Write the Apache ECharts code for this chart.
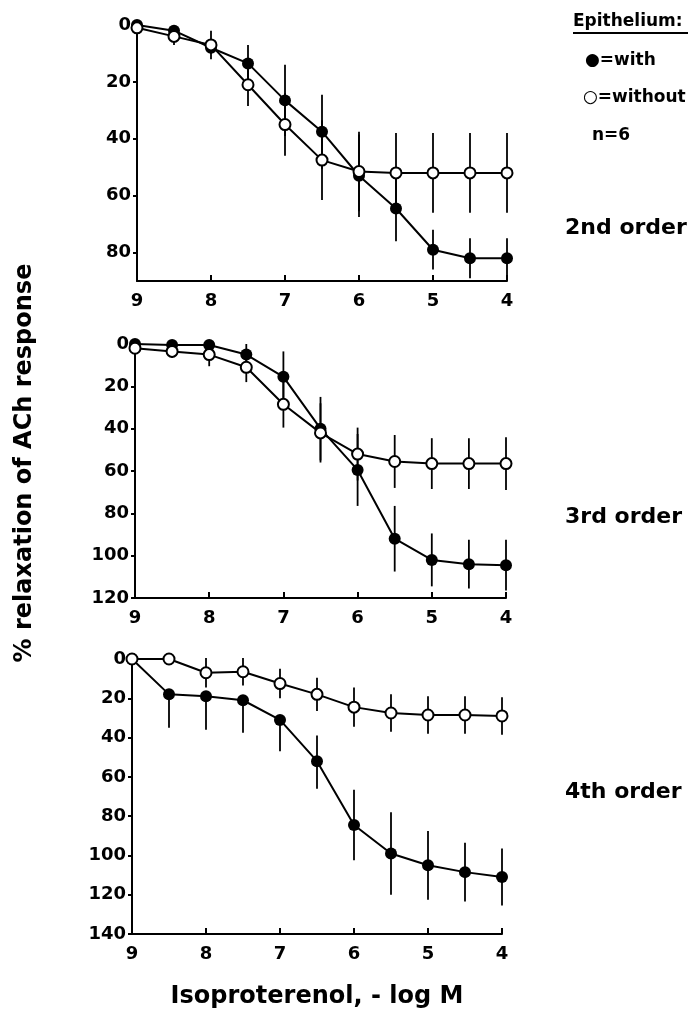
<!DOCTYPE html>
<html><head><meta charset="utf-8">
<script src="https://cdn.jsdelivr.net/npm/echarts@6/dist/echarts.min.js"></script>
<style>html,body{margin:0;padding:0;background:#fff}#c{width:696px;height:1011px}</style>
</head><body><div id="c"></div><script>
// ---- data ----
const xValues = [9, 8.5, 8, 7.5, 7, 6.5, 6, 5.5, 5, 4.5, 4];
const xTickValues = [9, 8, 7, 6, 5, 4];
const panelNames = ['2nd order', '3rd order', '4th order'];
const yTicks2 = [0, 20, 40, 60, 80];
const yTicks3 = [0, 20, 40, 60, 80, 100, 120];
const yTicks4 = [0, 20, 40, 60, 80, 100, 120, 140];

// 2nd order
const with2 = [0, 2, 8, 13.5, 26.5, 37.5, 53, 64.5, 79, 82, 82];
const with2SE = [0, 0, 2, 6.5, 12.5, 13, 14.5, 11.5, 7, 7, 7];
const without2 = [1, 4, 7, 21, 35, 47.5, 51.5, 52, 52, 52, 52];
const without2SE = [0, 3, 5, 7.5, 11, 14, 14, 14, 14, 14, 14];

// 3rd order
const with3 = [0, 0.5, 0.5, 5, 15.5, 40, 59.5, 92, 102, 104, 104.5];
const with3SE = [0, 0, 0, 5, 12, 15, 17, 15.5, 12.5, 11.5, 12];
const without3 = [2, 3.5, 5, 11, 28.5, 42, 52, 55.5, 56.5, 56.5, 56.5];
const without3SE = [0, 3, 5.5, 7, 11, 14, 12.5, 12.5, 12, 12, 12.5];

// 4th order
const with4 = [0, 18, 19, 21, 31, 52, 84.5, 99, 105, 108.5, 111];
const with4ErrUp = [0, 0, 0, 0, 0, 13, 18, 21, 17.5, 15, 14.5];
const with4ErrDown = [0, 17, 17, 16.5, 16, 14, 18, 21, 17.5, 15, 14.5];
const without4 = [0, 0, 7, 6.5, 12.5, 18, 24.5, 27.5, 28.5, 28.5, 29];
const without4SE = [0, 0, 7.5, 7, 7.5, 8.5, 10, 9.5, 9.5, 9.5, 9.5];

// ---- layout ----
const FONT = 'DejaVu Sans';
const grids = [
  {left: 137, top: 25, width: 370, height: 256},
  {left: 135, top: 344, width: 371, height: 254},
  {left: 132, top: 659, width: 370, height: 275}
];
const yMax = [90, 120, 140];
const yTickSets = [yTicks2, yTicks3, yTicks4];
const panelLabelY = [228, 517, 792];

function xAxisFor(i) {
  return {
    type: 'value', gridIndex: i, inverse: true, min: 4, max: 9, interval: 1, position: 'bottom',
    axisLine: {show: true, onZero: false, lineStyle: {color: '#000', width: 2}},
    axisTick: {show: true, inside: true, length: 6, lineStyle: {color: '#000', width: 2},
               customValues: xTickValues},
    axisLabel: {show: true, margin: 11, color: '#000', fontFamily: FONT, fontWeight: 'bold',
                fontSize: 18, customValues: xTickValues},
    splitLine: {show: false}
  };
}
function yAxisFor(i) {
  return {
    type: 'value', gridIndex: i, inverse: true, min: 0, max: yMax[i], interval: 20, position: 'left',
    axisLine: {show: true, onZero: false, lineStyle: {color: '#000', width: 2}},
    axisTick: {show: true, inside: false, length: 4, lineStyle: {color: '#000', width: 2},
               customValues: yTickSets[i]},
    axisLabel: {show: true, margin: 6, color: '#000', fontFamily: FONT, fontWeight: 'bold',
                fontSize: 18, customValues: yTickSets[i]},
    splitLine: {show: false}
  };
}
function errSeries(i, vals, up, down) {
  return {
    type: 'custom', xAxisIndex: i, yAxisIndex: i, z: 1, silent: true, clip: false,
    data: xValues.map((x, k) => [x, vals[k] - up[k], vals[k] + down[k]]),
    encode: {x: 0, y: [1, 2]},
    renderItem: function (params, api) {
      const p1 = api.coord([api.value(0), api.value(1)]);
      const p2 = api.coord([api.value(0), api.value(2)]);
      return {type: 'line', shape: {x1: p1[0], y1: p1[1], x2: p2[0], y2: p2[1]},
              style: {stroke: '#000', lineWidth: 1.8}};
    }
  };
}
function lineSeries(i, vals, filled) {
  return {
    type: 'line', xAxisIndex: i, yAxisIndex: i, z: filled ? 3 : 4,
    data: xValues.map((x, k) => [x, vals[k]]),
    symbol: 'circle', symbolSize: filled ? 12 : 11, showSymbol: true,
    lineStyle: {color: '#000', width: 2},
    itemStyle: filled ? {color: '#000'} : {color: '#fff', borderColor: '#000', borderWidth: 2},
    emphasis: {disabled: true}
  };
}

const series = [
  errSeries(0, with2, with2SE, with2SE), errSeries(0, without2, without2SE, without2SE),
  lineSeries(0, with2, true), lineSeries(0, without2, false),
  errSeries(1, with3, with3SE, with3SE), errSeries(1, without3, without3SE, without3SE),
  lineSeries(1, with3, true), lineSeries(1, without3, false),
  errSeries(2, with4, with4ErrUp, with4ErrDown), errSeries(2, without4, without4SE, without4SE),
  lineSeries(2, with4, true), lineSeries(2, without4, false)
];

const txt = (x, y, text, size, align, extra) => Object.assign({
  type: 'text', x: x, y: y,
  style: {text: text, fill: '#000', font: 'bold ' + size + 'px "' + FONT + '"',
          textAlign: align || 'left', textVerticalAlign: 'middle'}
}, extra || {});

const graphic = [
  txt(25, 463, '% relaxation of ACh response', 24, 'center', {rotation: Math.PI / 2}),
  txt(317, 997, 'Isoproterenol, - log M', 24, 'center'),
  txt(573, 22, 'Epithelium:', 17, 'left'),
  {type: 'line', shape: {x1: 573, y1: 33, x2: 688, y2: 33}, style: {stroke: '#000', lineWidth: 2}},
  txt(585, 61, '●=with', 17, 'left'),
  txt(583, 98, '○=without', 17, 'left'),
  txt(592, 136, 'n=6', 17, 'left')
].concat(panelNames.map((n, i) => txt(565, panelLabelY[i], n, 22, 'left')));

const chart = echarts.init(document.getElementById('c'), null, {renderer: 'canvas'});
chart.setOption({
  backgroundColor: '#fff',
  animation: false,
  grid: grids,
  xAxis: [0, 1, 2].map(xAxisFor),
  yAxis: [0, 1, 2].map(yAxisFor),
  series: series,
  graphic: graphic
});
</script></body></html>
